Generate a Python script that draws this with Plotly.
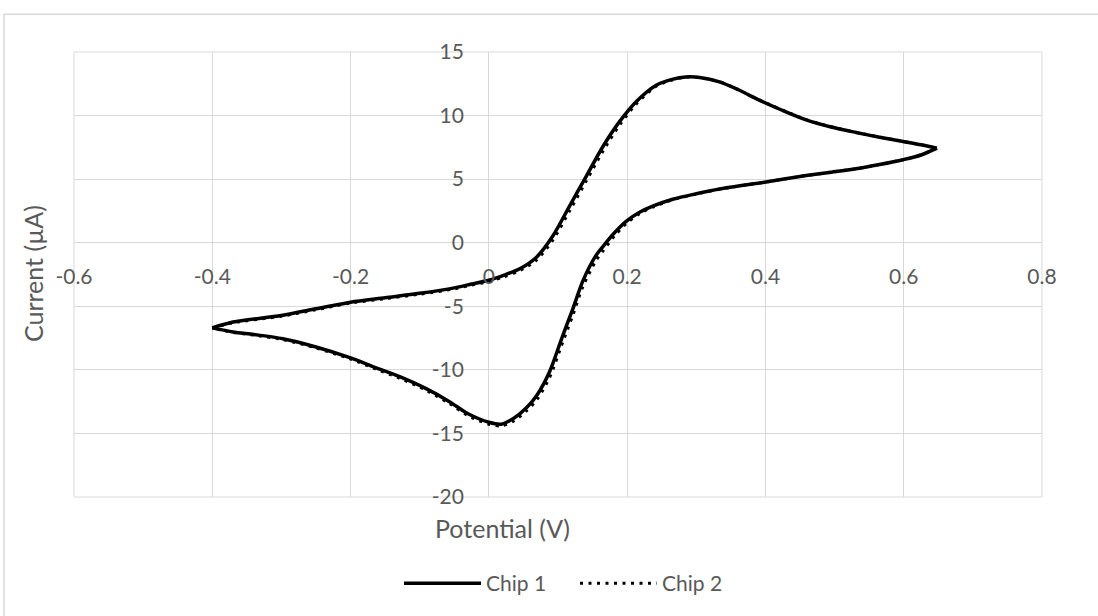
import plotly.graph_objects as go

# ---- data ----
chip1_fwd_v = [-0.400, -0.370, -0.300, -0.250, -0.200, -0.150, -0.100, -0.050, -0.025, 0.000,
               0.022, 0.044, 0.0685, 0.0925, 0.1167, 0.1408, 0.165, 0.189, 0.213, 0.242,
               0.265, 0.285, 0.305, 0.3336, 0.360, 0.391, 0.425, 0.459, 0.495, 0.531,
               0.565, 0.599, 0.625, 0.648]
chip1_fwd_i = [-6.70, -6.24, -5.72, -5.20, -4.68, -4.33, -3.98, -3.55, -3.25, -2.95,
               -2.55, -2.07, -1.16, 0.53, 2.88, 5.22, 7.57, 9.52, 11.09, 12.39,
               12.85, 13.04, 13.00, 12.65, 12.05, 11.22, 10.40, 9.66, 9.10, 8.67,
               8.30, 7.96, 7.70, 7.44]
chip1_rev_v = [0.648, 0.625, 0.599, 0.565, 0.531, 0.495, 0.459, 0.3986, 0.3336, 0.300,
               0.266, 0.237, 0.218, 0.199, 0.182, 0.165, 0.155, 0.136, 0.1215, 0.107,
               0.0878, 0.070, 0.054, 0.035, 0.018, 0.000, -0.030, -0.057, -0.090, -0.129,
               -0.165, -0.200, -0.250, -0.298, -0.340, -0.370, -0.400]
chip1_rev_i = [7.44, 6.90, 6.53, 6.15, 5.82, 5.55, 5.28, 4.76, 4.22, 3.85,
               3.42, 2.88, 2.40, 1.70, 0.80, -0.30, -1.00, -3.00, -5.20, -7.28,
               -10.15, -11.95, -13.00, -13.85, -14.27, -14.12, -13.45, -12.50, -11.50, -10.54,
               -9.80, -9.06, -8.20, -7.55, -7.22, -7.02, -6.70]

chip2_fwd_v = chip1_fwd_v
chip2_fwd_i = [-6.72, -6.30, -5.78, -5.27, -4.75, -4.40, -4.05, -3.63, -3.33, -3.05,
               -2.68, -2.22, -1.38, 0.20, 2.50, 4.85, 7.20, 9.25, 10.90, 12.30,
               12.80, 13.02, 12.99, 12.66, 12.06, 11.23, 10.42, 9.68, 9.12, 8.68,
               8.31, 7.97, 7.71, 7.44]
chip2_rev_v = chip1_rev_v
chip2_rev_i = [7.44, 6.90, 6.53, 6.15, 5.82, 5.55, 5.28, 4.76, 4.21, 3.83,
               3.38, 2.80, 2.28, 1.52, 0.55, -0.65, -1.40, -3.45, -5.70, -7.80,
               -10.60, -12.30, -13.25, -14.05, -14.40, -14.28, -13.60, -12.65, -11.62, -10.66,
               -9.90, -9.15, -8.28, -7.62, -7.27, -7.05, -6.72]

x_tickvals = [-0.6, -0.4, -0.2, 0, 0.2, 0.4, 0.6, 0.8]
x_ticktext = ["-0.6", "-0.4", "-0.2", "0", "0.2", "0.4", "0.6", "0.8"]
y_tickvals = [-20, -15, -10, -5, 0, 5, 10, 15]
y_ticktext = ["-20", "-15", "-10", "-5", "0", "5", "10", "15"]

FONT = "Lato"
GRAY = "#595959"
GRID = "#d9d9d9"

fig = go.Figure()
solid = dict(color="black", width=3.5, shape="spline", smoothing=0.8)
dotted = dict(color="black", width=3, dash="3px,5.5px", shape="spline", smoothing=0.8)

fig.add_trace(go.Scatter(x=chip1_fwd_v, y=chip1_fwd_i, mode="lines", line=solid,
                         name="Chip 1", legendgroup="c1"))
fig.add_trace(go.Scatter(x=chip1_rev_v, y=chip1_rev_i, mode="lines", line=solid,
                         name="Chip 1", legendgroup="c1", showlegend=False))
fig.add_trace(go.Scatter(x=chip2_fwd_v, y=chip2_fwd_i, mode="lines", line=dotted,
                         name="Chip 2", legendgroup="c2"))
fig.add_trace(go.Scatter(x=chip2_rev_v, y=chip2_rev_i, mode="lines", line=dotted,
                         name="Chip 2", legendgroup="c2", showlegend=False))

L, R, T, B = 74, 56, 52, 117
W, H = 1098, 616
pw, ph = W - L - R, H - T - B

x_pos = (0 - (-20)) / 35.0   # paper y of current = 0
y_pos = (0 - (-0.6)) / 1.4   # paper x of potential = 0

fig.update_layout(
    width=W, height=H,
    margin=dict(l=L, r=R, t=T, b=B),
    paper_bgcolor="white", plot_bgcolor="white",
    font=dict(family=FONT, color=GRAY, size=21),
    showlegend=True,
    legend=dict(orientation="h", x=(575 - L) / pw, xanchor="center",
                y=(H - B - 586) / ph, yanchor="middle",
                font=dict(family=FONT, size=21, color=GRAY),
                itemwidth=77, entrywidth=84, entrywidthmode="pixels",
                bgcolor="rgba(0,0,0,0)"),
    xaxis=dict(range=[-0.6, 0.8], tickvals=x_tickvals, ticktext=x_ticktext,
               showgrid=True, gridcolor=GRID, gridwidth=1, zeroline=False,
               showline=False, ticks="", anchor="free", position=x_pos,
               ticklabelstandoff=19, tickfont=dict(size=21, color=GRAY, family=FONT)),
    yaxis=dict(range=[-20, 15], tickvals=y_tickvals, ticktext=y_ticktext,
               showgrid=True, gridcolor=GRID, gridwidth=1, zeroline=False,
               showline=False, ticks="", anchor="free", position=y_pos,
               ticklabelstandoff=25, tickfont=dict(size=21, color=GRAY, family=FONT)),
    shapes=[
        dict(type="rect", xref="paper", yref="paper", x0=0, x1=1, y0=0, y1=1,
             line=dict(color=GRID, width=1), layer="below"),
        dict(type="rect", xref="paper", yref="paper",
             x0=(4 - L) / pw, x1=(W + 10 - L) / pw,
             y0=(H - B - (H + 10)) / ph, y1=(H - B - 14) / ph,
             line=dict(color=GRID, width=1.5), layer="below"),
    ],
    annotations=[
        dict(text="Potential (V)", xref="paper", yref="paper",
             x=(502 - L) / pw, y=(H - B - 530) / ph, xanchor="center", yanchor="middle",
             showarrow=False, font=dict(size=25, color=GRAY, family=FONT)),
        dict(text="Current (µA)", xref="paper", yref="paper",
             x=(33 - L) / pw, y=(H - B - 275) / ph, xanchor="center", yanchor="middle",
             textangle=-90, showarrow=False, font=dict(size=25, color=GRAY, family=FONT)),
    ],
)

fig.write_html("out.html", config={"displayModeBar": False},
               post_script="document.body.style.margin='0';document.body.style.overflow='hidden';")
